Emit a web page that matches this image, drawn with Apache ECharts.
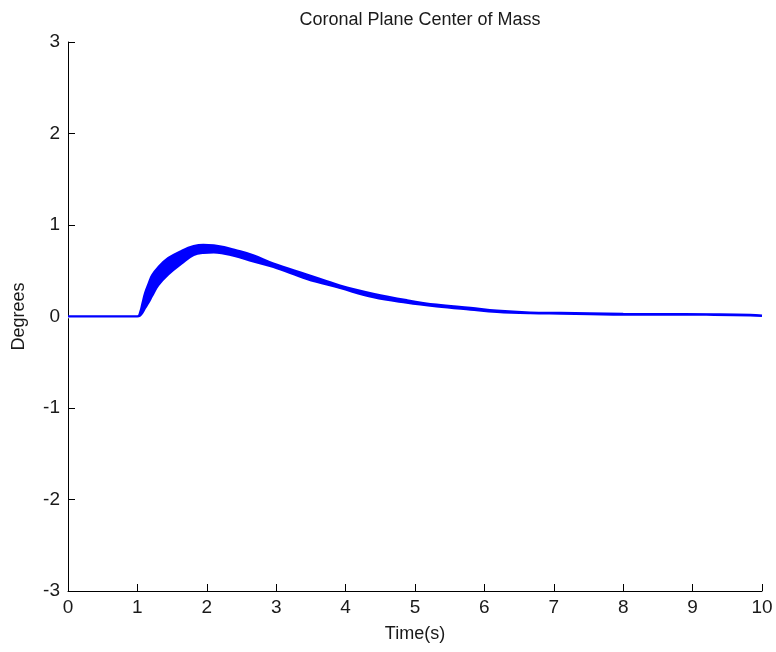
<!DOCTYPE html>
<html>
<head>
<meta charset="utf-8">
<title>Coronal Plane Center of Mass</title>
<script src="https://cdn.jsdelivr.net/npm/echarts@6/dist/echarts.min.js"></script>
<style>
  html, body { margin: 0; padding: 0; background: #fff; }
  #chart { width: 776px; height: 652px; }
</style>
</head>
<body>
<div id="chart"></div>
<script>
// Centre-of-mass angle in the coronal plane (degrees) over time (s).
// The signal oscillates fast around a slow trend, so it is kept as
// an upper and a lower envelope and the band between them is filled.
const time = [0, 1.0, 1.04, 1.07, 1.11, 1.16, 1.21, 1.30, 1.445, 1.64, 1.81, 1.95, 2.10, 2.25, 2.40, 2.67, 2.96, 3.44, 3.92, 4.40, 4.88, 5.31, 5.80, 6.18, 6.66, 7.10, 7.52, 8.00, 8.57, 9.20, 9.83, 10];
const upper = [0, 0, 0.05, 0.14, 0.26, 0.36, 0.45, 0.54, 0.64, 0.72, 0.77, 0.785, 0.78, 0.76, 0.73, 0.67, 0.58, 0.46, 0.34, 0.25, 0.18, 0.13, 0.095, 0.065, 0.045, 0.04, 0.035, 0.03, 0.027, 0.025, 0.02, 0.01];
const lower = [0, 0, 0.01, 0.035, 0.09, 0.15, 0.22, 0.34, 0.46, 0.58, 0.67, 0.695, 0.70, 0.685, 0.66, 0.60, 0.54, 0.41, 0.31, 0.21, 0.15, 0.11, 0.075, 0.05, 0.035, 0.03, 0.025, 0.02, 0.02, 0.018, 0.012, 0.005];

const xTicks = [0, 1, 2, 3, 4, 5, 6, 7, 8, 9, 10];
const yTicks = [-3, -2, -1, 0, 1, 2, 3];

const upperPts = time.map((t, i) => [t, upper[i]]);
const lowerPts = time.map((t, i) => [t, lower[i]]);

const FONT = '"Liberation Sans", Arial, sans-serif';
const BLUE = '#0000ff';
const axisCommon = {
  type: 'value',
  interval: 1,
  axisLine: { show: true, onZero: false, lineStyle: { color: '#000', width: 1 } },
  axisTick: { show: true, inside: true, length: 7, lineStyle: { color: '#000', width: 1 } },
  splitLine: { show: false },
  axisLabel: { color: '#1a1a1a', fontSize: 19, fontFamily: FONT },
  nameTextStyle: { color: '#1a1a1a', fontSize: 18, fontFamily: FONT }
};

const chart = echarts.init(document.getElementById('chart'), null, { renderer: 'canvas' });
chart.setOption({
  animation: false,
  backgroundColor: '#fff',
  title: {
    text: 'Coronal Plane Center of Mass',
    left: 415,
    textAlign: 'center',
    top: 6,
    textStyle: { color: '#1a1a1a', fontSize: 18, fontWeight: 'normal', fontFamily: FONT }
  },
  grid: { left: 68, right: 14, top: 42, bottom: 61 },
  xAxis: Object.assign({}, axisCommon, {
    min: xTicks[0], max: xTicks[xTicks.length - 1],
    name: 'Time(s)', nameLocation: 'middle', nameGap: 34,
    axisLabel: Object.assign({}, axisCommon.axisLabel, { margin: 7 })
  }),
  yAxis: Object.assign({}, axisCommon, {
    min: yTicks[0], max: yTicks[yTicks.length - 1],
    name: 'Degrees', nameLocation: 'middle', nameGap: 40,
    axisLabel: Object.assign({}, axisCommon.axisLabel, { margin: 8 })
  }),
  series: [
    {
      // upper envelope, filled down to zero
      type: 'line', data: upperPts, symbol: 'none', smooth: 0.4, z: 2,
      lineStyle: { color: BLUE, width: 2 },
      areaStyle: { color: BLUE, opacity: 1, origin: 0 }
    },
    {
      // lower envelope; its white fill clears the part below the band
      type: 'line', data: lowerPts, symbol: 'none', smooth: 0.4, z: 3,
      lineStyle: { color: BLUE, width: 2 },
      areaStyle: { color: '#ffffff', opacity: 1, origin: -0.02 }
    }
  ]
});
</script>
</body>
</html>
